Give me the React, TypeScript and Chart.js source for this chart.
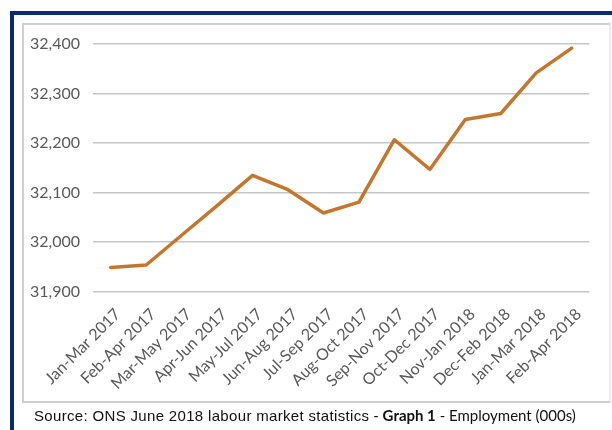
import React, { useEffect, useRef } from "react";
import { Chart, registerables } from "chart.js";

Chart.register(...registerables);

const categories = [
  "Jan-Mar 2017", "Feb-Apr 2017", "Mar-May 2017", "Apr-Jun 2017", "May-Jul 2017",
  "Jun-Aug 2017", "Jul-Sep 2017", "Aug-Oct 2017", "Sep-Nov 2017", "Oct-Dec 2017",
  "Nov-Jan 2018", "Dec-Feb 2018", "Jan-Mar 2018", "Feb-Apr 2018",
];
const employment = [
  31949, 31954, 32014, 32074, 32135, 32106, 32059, 32081, 32207, 32147,
  32248, 32260, 32342, 32392,
];
const yMin = 31900;
const yMax = 32400;
const yStep = 100;

export default function App() {
  const ref = useRef<HTMLCanvasElement | null>(null);
  useEffect(() => {
    if (!ref.current) return;
    const chart = new Chart(ref.current, {
      type: "line",
      data: {
        labels: categories,
        datasets: [
          {
            data: employment,
            borderColor: "#c4762d",
            borderWidth: 3.5,
            pointRadius: 0,
            tension: 0,
            fill: false,
            borderJoinStyle: "round",
            borderCapStyle: "round",
          },
        ],
      },
      options: {
        animation: false,
        responsive: false,
        maintainAspectRatio: false,
        layout: { padding: { left: 0, right: 22.6, top: 44.2, bottom: 0 } },
        plugins: { legend: { display: false }, tooltip: { enabled: false } },
        scales: {
          x: {
            offset: true,
            grid: { display: false },
            border: { display: false },
            ticks: {
              minRotation: 45,
              maxRotation: 45,
              autoSkip: false,
              padding: 5,
              labelOffset: 7,
              color: "#595959",
              font: { family: "Lato", size: 16 },
            },
            afterFit: (s: any) => { s.height = 430 - 291.7; },
          },
          y: {
            min: yMin,
            max: yMax,
            grid: { color: "#c6c6c6", lineWidth: 1.6, drawTicks: false },
            border: { display: false },
            ticks: {
              stepSize: yStep,
              padding: 13,
              color: "#595959",
              font: { family: "Lato", size: 16 },
              callback: (v: any) => Number(v).toLocaleString("en-US"),
            },
            afterFit: (s: any) => { s.width = 93; },
          },
        },
      },
    });
    return () => chart.destroy();
  }, []);

  return (
    <div style={{ position: "fixed", left: 0, top: 0, width: 612, height: 430, overflow: "hidden", background: "#fff" }}>
      <div style={{ position: "absolute", left: 10, top: 11, width: 700, height: 500, borderLeft: "4px solid #0b2a6c", borderTop: "4px solid #0b2a6c", boxSizing: "border-box" }} />
      <div style={{ position: "absolute", left: 22, top: 23, width: 589, height: 380, border: "2px solid #cfcfcf", borderRightColor: "#ececec", boxSizing: "border-box" }} />
      <canvas ref={ref} width={612} height={430} style={{ position: "absolute", left: 0, top: 0, width: 612, height: 430 }} />
      <div style={{ position: "absolute", left: 34, top: 406, whiteSpace: "nowrap", color: "#111", lineHeight: "18px" }}>
        <span style={{ fontFamily: "'Liberation Sans', Arial, sans-serif", fontSize: 15, letterSpacing: "0.33px" }}>Source: ONS June 2018 labour market statistics</span>
        <span style={{ fontFamily: "Lato, sans-serif", fontSize: 15 }}> - <b>Graph 1</b> - Employment (000s)</span>
      </div>
    </div>
  );
}
